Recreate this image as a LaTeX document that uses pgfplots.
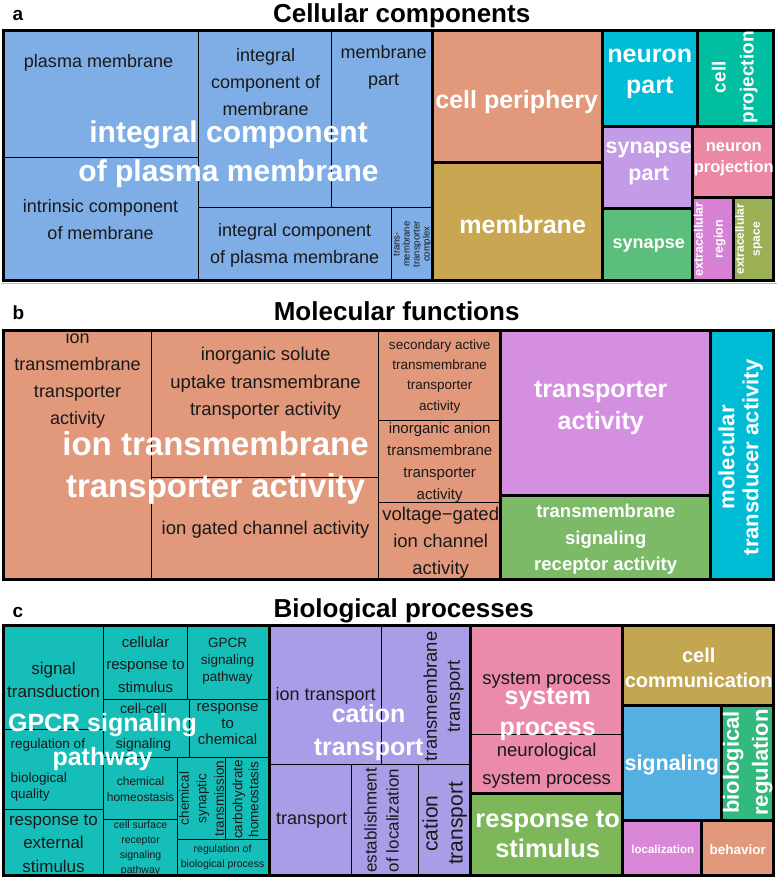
\documentclass[border=0pt]{standalone}
\usepackage{pgfplots}
\pgfplotsset{compat=1.18}
\usepackage{fontspec}
\setmainfont{Liberation Sans}

\definecolor{blueA}{RGB}{127,174,230}
\definecolor{salmon}{RGB}{226,152,122}
\definecolor{goldA}{RGB}{201,167,82}
\definecolor{cyanA}{RGB}{0,188,212}
\definecolor{tealA}{RGB}{0,190,160}
\definecolor{lavA}{RGB}{195,155,230}
\definecolor{pinkA}{RGB}{235,137,165}
\definecolor{greenA}{RGB}{92,190,125}
\definecolor{magA}{RGB}{214,128,214}
\definecolor{oliveA}{RGB}{155,175,85}
\definecolor{purpleB}{RGB}{212,143,224}
\definecolor{greenB}{RGB}{124,186,104}
\definecolor{tealC}{RGB}{22,190,186}
\definecolor{lavC}{RGB}{168,158,232}
\definecolor{pinkC}{RGB}{236,138,170}
\definecolor{greenC}{RGB}{125,183,90}
\definecolor{goldC}{RGB}{195,166,80}
\definecolor{blueC}{RGB}{85,176,226}
\definecolor{green2C}{RGB}{50,185,125}
\definecolor{magC}{RGB}{218,135,218}

% tile: x1,y1,x2,y2,colour (pixel coords, y down)
\newcommand{\tile}[5]{\addplot[fill=#5,draw=black,line width=0.7pt]
  coordinates {(#1,#2) (#3,#2) (#3,#4) (#1,#4)} --cycle;}
\newcommand{\grp}[4]{\addplot[draw=black,line width=3pt,fill=none,line join=miter]
  coordinates {(#1,#2) (#3,#2) (#3,#4) (#1,#4)} --cycle;}
% labels: [opts]{x,y}{size}{skip}{text}
\newcommand{\txt}[5][]{\node[inner sep=0pt,align=center,text=black!90,
  font=\fontsize{#3}{#4}\selectfont,#1] at (axis cs:#2) {#5};}
\newcommand{\wtxt}[5][]{\node[inner sep=0pt,align=center,text=white,
  font=\fontsize{#3}{#4}\selectfont\bfseries,#1] at (axis cs:#2) {#5};}

\begin{document}
\begin{tikzpicture}
\begin{axis}[
  width=778pt, height=877pt, scale only axis,
  xmin=0, xmax=778, ymin=0, ymax=877, y dir=reverse,
  hide axis, clip=false,
]
% ---------------- a: cellular components
\tile{3}{28}{198}{155}{blueA}
\tile{3}{155}{198}{278}{blueA}
\tile{198}{28}{331}{205}{blueA}
\tile{331}{28}{432}{205}{blueA}
\tile{198}{205}{391}{278}{blueA}
\tile{391}{205}{432}{278}{blueA}
\grp{3}{28}{432}{278}
\tile{432}{28}{602}{160}{salmon}   \grp{432}{28}{602}{160}
\tile{432}{160}{602}{278}{goldA}   \grp{432}{160}{602}{278}
\tile{602}{28}{697}{124}{cyanA}    \grp{602}{28}{697}{124}
\tile{697}{28}{773}{124}{tealA}    \grp{697}{28}{773}{124}
\tile{602}{124}{692}{206}{lavA}    \grp{602}{124}{692}{206}
\tile{692}{124}{773}{195}{pinkA}   \grp{692}{124}{773}{195}
\tile{602}{206}{692}{278}{greenA}  \grp{602}{206}{692}{278}
\tile{692}{195}{733}{278}{magA}    \grp{692}{195}{733}{278}
\tile{733}{195}{773}{278}{oliveA}  \grp{733}{195}{773}{278}
\grp{3}{28}{773}{278}
\addplot[gray!55,line width=1pt] coordinates {(0,281) (776,281)};

% ---------------- b: molecular functions
\tile{3}{328}{151}{577}{salmon}
\tile{151}{328}{378}{475}{salmon}
\tile{151}{475}{378}{577}{salmon}
\tile{378}{328}{500}{418}{salmon}
\tile{378}{418}{500}{500}{salmon}
\tile{378}{500}{500}{577}{salmon}
\grp{3}{328}{500}{577}
\tile{500}{328}{710}{493}{purpleB} \grp{500}{328}{710}{493}
\tile{500}{493}{710}{577}{greenB}  \grp{500}{493}{710}{577}
\tile{710}{328}{773}{577}{cyanA}   \grp{710}{328}{773}{577}
\grp{3}{328}{773}{577}

% ---------------- c: biological processes
\tile{3}{623}{103}{727}{tealC}
\tile{3}{727}{103}{807}{tealC}
\tile{3}{807}{103}{873}{tealC}
\tile{103}{623}{187}{697}{tealC}
\tile{187}{623}{269}{697}{tealC}
\tile{103}{697}{189}{755}{tealC}
\tile{189}{697}{269}{755}{tealC}
\tile{103}{755}{177}{817}{tealC}
\tile{103}{817}{177}{873}{tealC}
\tile{177}{755}{225}{837}{tealC}
\tile{225}{755}{269}{837}{tealC}
\tile{177}{837}{269}{873}{tealC}
\grp{3}{623}{269}{873}
\tile{269}{623}{381}{762}{lavC}
\tile{381}{623}{470}{762}{lavC}
\tile{269}{762}{351}{873}{lavC}
\tile{351}{762}{418}{873}{lavC}
\tile{418}{762}{470}{873}{lavC}
\grp{269}{623}{470}{873}
\tile{470}{623}{622}{732}{pinkC}
\tile{470}{732}{622}{791}{pinkC}
\grp{470}{623}{622}{791}
\tile{470}{791}{622}{873}{greenC}  \grp{470}{791}{622}{873}
\tile{622}{623}{773}{703}{goldC}   \grp{622}{623}{773}{703}
\tile{622}{703}{721}{818}{blueC}   \grp{622}{703}{721}{818}
\tile{721}{703}{773}{818}{green2C} \grp{721}{703}{773}{818}
\tile{622}{818}{701}{873}{magC}    \grp{622}{818}{701}{873}
\tile{701}{818}{773}{873}{salmon}  \grp{701}{818}{773}{873}
\grp{3}{623}{773}{873}

% ---------------- titles
\node[anchor=base,font=\fontsize{26}{30}\selectfont\bfseries] at (axis cs:401,20) {Cellular components};
\node[anchor=base,font=\fontsize{26}{30}\selectfont\bfseries] at (axis cs:396,318) {Molecular functions};
\node[anchor=base,font=\fontsize{26}{30}\selectfont\bfseries] at (axis cs:403,615) {Biological processes};
\node[anchor=base west,inner sep=0pt,font=\fontsize{19}{22}\selectfont\bfseries] at (axis cs:12,18) {a};
\node[anchor=base west,inner sep=0pt,font=\fontsize{19}{22}\selectfont\bfseries] at (axis cs:12,317) {b};
\node[anchor=base west,inner sep=0pt,font=\fontsize{19}{22}\selectfont\bfseries] at (axis cs:12,615) {c};

% ---------------- labels a
\txt{98,61}{18}{27}{plasma membrane}
\txt{265,80}{18}{27}{integral\\component of\\membrane}
\txt{383,65}{18}{27}{membrane\\part}
\txt{100,217}{18}{27}{intrinsic component\\of membrane}
\txt{294,243}{18}{27}{integral component\\of plasma membrane}
\txt[rotate=90]{412,242}{9.5}{10}{trans-\\membrane\\transporter\\complex}
\wtxt{228,152}{30}{39}{integral component\\of plasma membrane}
\wtxt{516,100}{25}{30}{cell periphery}
\wtxt{522,222}{25}{30}{membrane}
\wtxt{649,72}{25}{31}{neuron\\part}
\wtxt[rotate=90]{734,75}{19}{28}{cell\\projection}
\wtxt{648,161}{21.5}{27}{synapse\\part}
\wtxt{733,157}{16.5}{21}{neuron\\projection}
\wtxt{648,243}{18}{22}{synapse}
\wtxt[rotate=90]{709,237}{12.5}{20}{extracellular\\region}
\wtxt[rotate=90]{748,237}{12}{16}{extracellular\\space}

% ---------------- labels b
\txt{77,377}{18}{26.7}{ion\\transmembrane\\transporter\\activity}
\txt{265,381}{18.5}{27.5}{inorganic solute\\uptake transmembrane\\transporter activity}
\txt{265,527}{18.5}{27}{ion gated channel activity}
\txt{439,374}{13.5}{20.3}{secondary active\\transmembrane\\transporter\\activity}
\txt{439,460}{15}{22}{inorganic anion\\transmembrane\\transporter\\activity}
\txt{440,540}{18.5}{27}{voltage−gated\\ion channel\\activity}
\wtxt{215,466}{33}{42}{ion transmembrane\\transporter activity}
\wtxt{600,406}{25}{32}{transporter\\activity}
\wtxt{605,537}{18.5}{26.5}{transmembrane\\signaling\\receptor activity}
\wtxt[rotate=90]{740,455}{22}{24}{molecular\\transducer activity}

% ---------------- labels c
\txt{53,677}{17}{23}{signal\\transduction}
\txt[align=left,anchor=west]{10,768}{13.5}{16.5}{regulation of\\[17pt]biological\\quality}
\txt{53,841}{17}{23.5}{response to\\external\\stimulus}
\txt{145,662}{15}{22.5}{cellular\\response to\\stimulus}
\txt{227,659}{13.5}{17}{GPCR\\signaling\\pathway}
\txt{143,725}{14}{35}{cell-cell\\signaling}
\txt{227,722}{15}{16.5}{response\\to\\chemical}
\txt{140,787}{12}{16}{chemical\\homeostasis}
\txt{140,846}{10.5}{15}{cell surface\\receptor\\signaling\\pathway}
\txt[rotate=90]{201,796}{13.5}{17.5}{chemical\\synaptic\\transmission}
\txt[rotate=90]{245,797}{13.5}{16}{carbohydrate\\homeostasis}
\txt{222,855}{10.5}{15}{regulation of\\biological process}
\wtxt{102,740}{25}{34}{GPCR signaling\\pathway}
\txt{325,693}{18}{22}{ion transport}
\txt[rotate=90]{443,694}{18.5}{23}{transmembrane\\transport}
\txt{311,818}{18}{22}{transport}
\txt[rotate=90]{381,818}{17}{22}{establishment\\of localization}
\txt[rotate=90]{444,821}{21}{25}{cation\\transport}
\wtxt{368,730}{25}{33}{cation\\transport}
\txt{546,678}{18.5}{22}{system process}
\txt{546,763}{18.5}{28}{neurological\\system process}
\wtxt{547,712}{25}{31}{system\\process}
\wtxt{547,832}{25.5}{30}{response to\\stimulus}
\wtxt{698,665}{20}{25}{cell\\communication}
\wtxt{671,763}{21.5}{25}{signaling}
\wtxt[rotate=90]{747,760}{22}{29}{biological\\regulation}
\wtxt{662,847}{11.5}{14}{localization}
\wtxt{737,847}{13.5}{16}{behavior}
\end{axis}
\end{tikzpicture}
\end{document}
